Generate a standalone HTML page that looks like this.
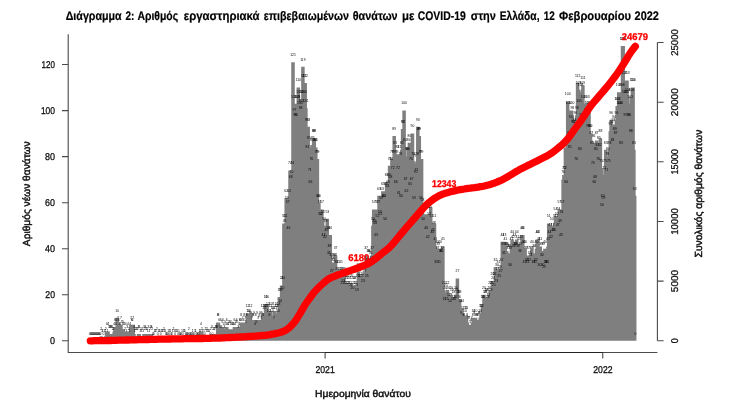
<!DOCTYPE html>
<html lang="el">
<head>
<meta charset="utf-8">
<title>Διάγραμμα 2: Αριθμός εργαστηριακά επιβεβαιωμένων θανάτων με COVID-19 στην Ελλάδα</title>
<style>
html,body{margin:0;padding:0;background:#fff;}
body{width:734px;height:413px;overflow:hidden;}
svg{display:block;}
svg text{font-family:"Liberation Sans",sans-serif;text-rendering:geometricPrecision;}
.t{font-weight:bold;font-size:12.4px;fill:#000;stroke:#000;stroke-width:0.2px;}
.ax{font-size:9.9px;fill:#111;stroke:#111;stroke-width:0.3px;}
.lab{font-size:10px;fill:#111;stroke:#111;stroke-width:0.45px;}
svg .n text{font-size:3.4px;fill:#000;text-anchor:middle;text-rendering:auto;}
.r{font-weight:bold;font-size:9.8px;fill:#ff0000;stroke:#ff0000;stroke-width:0.3px;text-anchor:middle;}
</style>
</head>
<body>
<svg width="734" height="413" viewBox="0 0 734 413">
<rect width="734" height="413" fill="#fff"/>
<text class="t" y="20"><tspan x="65.7" textLength="56" lengthAdjust="spacingAndGlyphs">Διάγραμμα</tspan> <tspan x="125.4" textLength="8.9" lengthAdjust="spacingAndGlyphs">2:</tspan> <tspan x="137.4" textLength="40.8" lengthAdjust="spacingAndGlyphs">Αριθμός</tspan> <tspan x="183.8" textLength="75.8" lengthAdjust="spacingAndGlyphs">εργαστηριακά</tspan> <tspan x="263.8" textLength="85.2" lengthAdjust="spacingAndGlyphs">επιβεβαιωμένων</tspan> <tspan x="352.7" textLength="44.9" lengthAdjust="spacingAndGlyphs">θανάτων</tspan> <tspan x="402" textLength="12.4" lengthAdjust="spacingAndGlyphs">με</tspan> <tspan x="417.7" textLength="48.1" lengthAdjust="spacingAndGlyphs">COVID-19</tspan> <tspan x="470.7" textLength="25.2" lengthAdjust="spacingAndGlyphs">στην</tspan> <tspan x="499.7" textLength="39.8" lengthAdjust="spacingAndGlyphs">Ελλάδα,</tspan> <tspan x="543.7" textLength="11.1" lengthAdjust="spacingAndGlyphs">12</tspan> <tspan x="559" textLength="72.1" lengthAdjust="spacingAndGlyphs">Φεβρουαρίου</tspan> <tspan x="634.6" textLength="24.3" lengthAdjust="spacingAndGlyphs">2022</tspan></text>
<path d="M101.3 340.8V336.2M102 340.8V338.5M102.8 340.8V338.5M104.3 340.8V338.5M105.1 340.8V338.5M105.8 340.8V336.2M106.6 340.8V331.6M107.4 340.8V338.5M108.1 340.8V331.6M108.9 340.8V333.9M109.6 340.8V333.9M110.4 340.8V333.9M111.2 340.8V333.9M111.9 340.8V333.9M112.7 340.8V336.2M113.4 340.8V336.2M114.2 340.8V331.6M115 340.8V327M115.7 340.8V331.6M116.5 340.8V327M117.2 340.8V317.8M118 340.8V324.7M118.8 340.8V327M119.5 340.8V331.6M120.3 340.8V331.6M121 340.8V324.7M121.8 340.8V329.3M122.6 340.8V331.6M123.3 340.8V329.3M124.1 340.8V331.6M124.9 340.8V336.2M125.6 340.8V331.6M126.4 340.8V338.5M127.1 340.8V333.9M127.9 340.8V331.6M128.7 340.8V336.2M129.4 340.8V338.5M130.2 340.8V331.6M130.9 340.8V324.7M131.7 340.8V327M132.5 340.8V327M133.2 340.8V324.7M134 340.8V333.9M134.7 340.8V338.5M135.5 340.8V336.2M136.3 340.8V336.2M137 340.8V336.2M137.8 340.8V336.2M138.5 340.8V333.9M139.3 340.8V333.9M140.1 340.8V338.5M140.8 340.8V336.2M141.6 340.8V338.5M142.4 340.8V336.2M143.1 340.8V338.5M143.9 340.8V333.9M144.6 340.8V336.2M145.4 340.8V333.9M146.2 340.8V336.2M146.9 340.8V336.2M147.7 340.8V338.5M148.4 340.8V333.9M149.2 340.8V338.5M150 340.8V336.2M150.7 340.8V333.9M151.5 340.8V333.9M152.2 340.8V336.2M154.5 340.8V338.5M155.3 340.8V338.5M156 340.8V338.5M156.8 340.8V336.2M158.3 340.8V338.5M159.1 340.8V338.5M159.9 340.8V338.5M161.4 340.8V338.5M162.1 340.8V338.5M162.9 340.8V338.5M163.7 340.8V336.2M164.4 340.8V338.5M165.2 340.8V338.5M168.2 340.8V338.5M169.7 340.8V338.5M170.5 340.8V338.5M172.8 340.8V338.5M173.5 340.8V336.2M174.3 340.8V338.5M175.8 340.8V338.5M176.6 340.8V338.5M177.4 340.8V338.5M178.9 340.8V338.5M181.9 340.8V338.5M183.4 340.8V338.5M184.2 340.8V338.5M185 340.8V338.5M188.8 340.8V336.2M192.6 340.8V338.5M194.9 340.8V338.5M195.6 340.8V338.5M199.4 340.8V338.5M200.2 340.8V338.5M200.9 340.8V331.6M201.7 340.8V336.2M202.5 340.8V338.5M204 340.8V338.5M205.5 340.8V336.2M206.3 340.8V338.5M207 340.8V336.2M207.8 340.8V338.5M208.6 340.8V338.5M209.3 340.8V338.5M210.8 340.8V336.2M211.6 340.8V333.9M213.1 340.8V336.2M213.9 340.8V336.2M214.6 340.8V336.2M215.4 340.8V333.9M216.2 340.8V333.9M216.9 340.8V333.9M217.7 340.8V322.4M218.4 340.8V322.4M219.2 340.8V327M220 340.8V333.9M220.7 340.8V327M221.5 340.8V333.9M222.2 340.8V329.3M223 340.8V327M223.8 340.8V331.6M224.5 340.8V333.9M225.3 340.8V329.3M226.1 340.8V331.6M226.8 340.8V327M227.6 340.8V331.6M228.3 340.8V331.6M229.1 340.8V329.3M229.9 340.8V329.3M230.6 340.8V331.6M231.4 340.8V329.3M232.1 340.8V331.6M232.9 340.8V331.6M233.7 340.8V331.6M234.4 340.8V327M235.2 340.8V331.6M235.9 340.8V329.3M236.7 340.8V327M237.5 340.8V329.3M238.2 340.8V333.9M239 340.8V331.6M239.7 340.8V327M240.5 340.8V327M241.3 340.8V322.4M242 340.8V327M242.8 340.8V324.7M243.6 340.8V327M244.3 340.8V322.4M245.1 340.8V324.7M245.8 340.8V329.3M246.6 340.8V322.4M247.4 340.8V313.2M248.1 340.8V317.8M248.9 340.8V317.8M249.6 340.8V320.1M250.4 340.8V313.2M251.2 340.8V320.1M251.9 340.8V324.7M252.7 340.8V322.4M253.4 340.8V322.4M254.2 340.8V320.1M255 340.8V331.6M255.7 340.8V322.4M256.5 340.8V329.3M257.2 340.8V320.1M258 340.8V324.7M258.8 340.8V324.7M259.5 340.8V322.4M260.3 340.8V320.1M261.1 340.8V324.7M261.8 340.8V320.1M262.6 340.8V313.2M263.3 340.8V322.4M264.1 340.8V315.5M264.9 340.8V313.2M265.6 340.8V304M266.4 340.8V313.2M267.1 340.8V304M267.9 340.8V310.9M268.7 340.8V317.8M269.4 340.8V322.4M270.2 340.8V313.2M270.9 340.8V310.9M271.7 340.8V317.8M272.5 340.8V315.5M273.2 340.8V315.5M274 340.8V324.7M274.7 340.8V310.9M275.5 340.8V315.5M276.3 340.8V313.2M277 340.8V313.2M277.8 340.8V317.8M278.6 340.8V310.9M279.3 340.8V297.1M280.1 340.8V308.6M280.8 340.8V297.1M281.6 340.8V285.5M282.4 340.8V294.8M283.1 340.8V285.5M283.9 340.8V223.4M284.6 340.8V228M285.4 340.8V223.4M286.2 340.8V198.1M286.9 340.8V205M287.7 340.8V209.6M288.4 340.8V234.9M289.2 340.8V198.1M290 340.8V170.4M290.7 340.8V184.2M291.5 340.8V179.6M292.2 340.8V170.4M293 340.8V62.2M293.8 340.8V103.7M294.5 340.8V117.5M295.3 340.8V122.1M296.1 340.8V122.1M296.8 340.8V103.7M297.6 340.8V103.7M298.3 340.8V87.5M299.1 340.8V99.1M299.9 340.8V110.6M300.6 340.8V115.2M301.4 340.8V108.3M302.1 340.8V99.1M302.9 340.8V66.8M303.7 340.8V82.9M304.4 340.8V99.1M305.2 340.8V82.9M305.9 340.8V108.3M306.7 340.8V126.7M307.5 340.8V154.3M308.2 340.8V126.7M309 340.8V145.1M309.8 340.8V177.3M310.5 340.8V188.8M311.3 340.8V165.8M312 340.8V147.4M312.8 340.8V145.1M313.6 340.8V138.2M314.3 340.8V138.2M315.1 340.8V147.4M315.8 340.8V147.4M316.6 340.8V158.9M317.4 340.8V158.9M318.1 340.8V202.7M318.9 340.8V202.7M319.6 340.8V209.6M320.4 340.8V221.1M321.2 340.8V221.1M321.9 340.8V209.6M322.7 340.8V218.8M323.4 340.8V241.8M324.2 340.8V225.7M325 340.8V244.1M325.7 340.8V228M326.5 340.8V237.2M327.3 340.8V218.8M328 340.8V234.9M328.8 340.8V260.2M329.5 340.8V253.3M330.3 340.8V234.9M331.1 340.8V262.5M331.8 340.8V278.6M332.6 340.8V264.8M333.3 340.8V267.1M334.1 340.8V262.5M334.9 340.8V262.5M335.6 340.8V255.6M336.4 340.8V269.4M337.1 340.8V276.3M337.9 340.8V269.4M338.7 340.8V280.9M339.4 340.8V280.9M340.2 340.8V276.3M340.9 340.8V269.4M341.7 340.8V276.3M342.5 340.8V290.1M343.2 340.8V287.8M344 340.8V276.3M344.8 340.8V283.2M345.5 340.8V290.1M346.3 340.8V285.5M347 340.8V290.1M347.8 340.8V283.2M348.6 340.8V290.1M349.3 340.8V285.5M350.1 340.8V290.1M350.8 340.8V292.5M351.6 340.8V283.2M352.4 340.8V294.8M353.1 340.8V285.5M353.9 340.8V290.1M354.6 340.8V285.5M355.4 340.8V290.1M356.2 340.8V292.5M356.9 340.8V297.1M357.7 340.8V283.2M358.4 340.8V271.7M359.2 340.8V278.6M360 340.8V283.2M360.7 340.8V283.2M361.5 340.8V276.3M362.3 340.8V280.9M363 340.8V287.8M363.8 340.8V274M364.5 340.8V278.6M365.3 340.8V271.7M366.1 340.8V255.6M366.8 340.8V283.2M367.6 340.8V267.1M368.3 340.8V257.9M369.1 340.8V257.9M369.9 340.8V269.4M370.6 340.8V260.2M371.4 340.8V264.8M372.1 340.8V255.6M372.9 340.8V225.7M373.7 340.8V209.6M374.4 340.8V228M375.2 340.8V230.3M375.9 340.8V241.8M376.7 340.8V209.6M377.5 340.8V223.4M378.2 340.8V209.6M379 340.8V195.8M379.8 340.8V218.8M380.5 340.8V221.1M381.3 340.8V205M382 340.8V195.8M382.8 340.8V191.2M383.6 340.8V202.7M384.3 340.8V202.7M385.1 340.8V225.7M385.8 340.8V191.2M386.6 340.8V181.9M387.4 340.8V193.5M388.1 340.8V188.8M388.9 340.8V181.9M389.6 340.8V165.8M390.4 340.8V184.2M391.2 340.8V165.8M391.9 340.8V158.9M392.7 340.8V175M393.4 340.8V158.9M394.2 340.8V135.9M395 340.8V149.7M395.7 340.8V188.8M396.5 340.8V158.9M397.3 340.8V154.3M398 340.8V175M398.8 340.8V200.4M399.5 340.8V154.3M400.3 340.8V161.2M401.1 340.8V202.7M401.8 340.8V149.7M402.6 340.8V129M403.3 340.8V129M404.1 340.8V110.6M404.9 340.8V147.4M405.6 340.8V186.5M406.4 340.8V198.1M407.1 340.8V156.6M407.9 340.8V156.6M408.7 340.8V147.4M409.4 340.8V142.8M410.2 340.8V191.2M410.9 340.8V165.8M411.7 340.8V186.5M412.5 340.8V133.6M413.2 340.8V161.2M414 340.8V205M414.8 340.8V163.5M415.5 340.8V179.6M416.3 340.8V177.3M417 340.8V161.2M417.8 340.8V126.7M418.6 340.8V135.9M419.3 340.8V135.9M420.1 340.8V158.9M420.8 340.8V205M421.6 340.8V158.9M422.4 340.8V207.3M423.1 340.8V225.7M423.9 340.8V214.2M424.6 340.8V216.5M425.4 340.8V214.2M426.2 340.8V234.9M426.9 340.8V214.2M427.7 340.8V244.1M428.5 340.8V214.2M429.2 340.8V221.1M430 340.8V214.2M430.7 340.8V207.3M431.5 340.8V223.4M432.3 340.8V239.5M433 340.8V237.2M433.8 340.8V230.3M434.5 340.8V223.4M435.3 340.8V246.4M436.1 340.8V269.4M436.8 340.8V248.7M437.6 340.8V255.6M438.3 340.8V251M439.1 340.8V269.4M439.9 340.8V248.7M440.6 340.8V257.9M441.4 340.8V257.9M442.1 340.8V255.6M442.9 340.8V246.4M443.7 340.8V290.1M444.4 340.8V306.3M445.2 340.8V294.8M446 340.8V292.5M446.7 340.8V306.3M447.5 340.8V290.1M448.2 340.8V294.8M449 340.8V301.7M449.8 340.8V308.6M450.5 340.8V301.7M451.3 340.8V294.8M452 340.8V297.1M452.8 340.8V306.3M453.6 340.8V299.4M454.3 340.8V306.3M455.1 340.8V304M455.8 340.8V294.8M456.6 340.8V297.1M457.4 340.8V278.6M458.1 340.8V299.4M458.9 340.8V304M459.6 340.8V299.4M460.4 340.8V308.6M461.2 340.8V320.1M461.9 340.8V308.6M462.7 340.8V315.5M463.5 340.8V322.4M464.2 340.8V322.4M465 340.8V317.8M465.7 340.8V315.5M466.5 340.8V315.5M467.3 340.8V322.4M468 340.8V324.7M468.8 340.8V324.7M469.5 340.8V324.7M470.3 340.8V329.3M471.1 340.8V327M471.8 340.8V324.7M472.6 340.8V322.4M473.3 340.8V317.8M474.1 340.8V320.1M474.9 340.8V322.4M475.6 340.8V317.8M476.4 340.8V322.4M477.1 340.8V322.4M477.9 340.8V322.4M478.7 340.8V320.1M479.4 340.8V320.1M480.2 340.8V317.8M481 340.8V313.2M481.7 340.8V313.2M482.5 340.8V304M483.2 340.8V304M484 340.8V294.8M484.8 340.8V299.4M485.5 340.8V299.4M486.3 340.8V297.1M487 340.8V297.1M487.8 340.8V304M488.6 340.8V301.7M489.3 340.8V294.8M490.1 340.8V290.1M490.8 340.8V297.1M491.6 340.8V290.1M492.4 340.8V280.9M493.1 340.8V285.5M493.9 340.8V292.5M494.6 340.8V280.9M495.4 340.8V267.1M496.2 340.8V287.8M496.9 340.8V271.7M497.7 340.8V276.3M498.5 340.8V269.4M499.2 340.8V283.2M500 340.8V274M500.7 340.8V278.6M501.5 340.8V267.1M502.3 340.8V241.8M503 340.8V251M503.8 340.8V260.2M504.5 340.8V241.8M505.3 340.8V246.4M506.1 340.8V251M506.8 340.8V251M507.6 340.8V253.3M508.3 340.8V255.6M509.1 340.8V253.3M509.9 340.8V271.7M510.6 340.8V255.6M511.4 340.8V246.4M512.1 340.8V239.5M512.9 340.8V244.1M513.7 340.8V253.3M514.4 340.8V241.8M515.2 340.8V251M516 340.8V251M516.7 340.8V239.5M517.5 340.8V244.1M518.2 340.8V253.3M519 340.8V246.4M519.8 340.8V257.9M520.5 340.8V251M521.3 340.8V244.1M522 340.8V234.9M522.8 340.8V234.9M523.6 340.8V248.7M524.3 340.8V269.4M525.1 340.8V248.7M525.8 340.8V255.6M526.6 340.8V267.1M527.4 340.8V269.4M528.1 340.8V255.6M528.9 340.8V267.1M529.7 340.8V260.2M530.4 340.8V262.5M531.2 340.8V255.6M531.9 340.8V248.7M532.7 340.8V255.6M533.5 340.8V269.4M534.2 340.8V253.3M535 340.8V269.4M535.7 340.8V267.1M536.5 340.8V248.7M537.3 340.8V239.5M538 340.8V239.5M538.8 340.8V246.4M539.5 340.8V271.7M540.3 340.8V246.4M541.1 340.8V251M541.8 340.8V262.5M542.6 340.8V271.7M543.3 340.8V251M544.1 340.8V274M544.9 340.8V248.7M545.6 340.8V269.4M546.4 340.8V269.4M547.2 340.8V269.4M547.9 340.8V246.4M548.7 340.8V223.4M549.4 340.8V239.5M550.2 340.8V232.6M551 340.8V244.1M551.7 340.8V225.7M552.5 340.8V232.6M553.2 340.8V237.2M554 340.8V237.2M554.8 340.8V223.4M555.5 340.8V216.5M556.3 340.8V223.4M557 340.8V221.1M557.8 340.8V232.6M558.6 340.8V216.5M559.3 340.8V209.6M560.1 340.8V228M560.8 340.8V241.8M561.6 340.8V218.8M562.4 340.8V209.6M563.1 340.8V179.6M563.9 340.8V175M564.7 340.8V175M565.4 340.8V147.4M566.2 340.8V188.8M566.9 340.8V147.4M567.7 340.8V101.4M568.5 340.8V110.6M569.2 340.8V140.5M570 340.8V154.3M570.7 340.8V124.4M571.5 340.8V110.6M572.3 340.8V115.2M573 340.8V129M573.8 340.8V129M574.5 340.8V126.7M575.3 340.8V119.8M576.1 340.8V165.8M576.8 340.8V115.2M577.6 340.8V82.9M578.3 340.8V89.8M579.1 340.8V108.3M579.9 340.8V156.6M580.6 340.8V92.2M581.4 340.8V122.1M582.2 340.8V89.8M582.9 340.8V85.2M583.7 340.8V103.7M584.4 340.8V122.1M585.2 340.8V119.8M586 340.8V117.5M586.7 340.8V103.7M587.5 340.8V110.6M588.2 340.8V133.6M589 340.8V110.6M589.8 340.8V133.6M590.5 340.8V133.6M591.3 340.8V140.5M592 340.8V149.7M592.8 340.8V170.4M593.6 340.8V142.8M594.3 340.8V188.8M595.1 340.8V184.2M595.8 340.8V156.6M596.6 340.8V140.5M597.4 340.8V152M598.1 340.8V165.8M598.9 340.8V145.1M599.7 340.8V152M600.4 340.8V138.2M601.2 340.8V168.1M601.9 340.8V211.9M602.7 340.8V202.7M603.5 340.8V205M604.2 340.8V175M605 340.8V168.1M605.7 340.8V149.7M606.5 340.8V177.3M607.3 340.8V161.2M608 340.8V156.6M608.8 340.8V168.1M609.5 340.8V149.7M610.3 340.8V131.3M611.1 340.8V119.8M611.8 340.8V129M612.6 340.8V147.4M613.3 340.8V126.7M614.1 340.8V124.4M614.9 340.8V135.9M615.6 340.8V140.5M616.4 340.8V119.8M617.2 340.8V106M617.9 340.8V106M618.7 340.8V92.2M619.4 340.8V110.6M620.2 340.8V110.6M621 340.8V149.7M621.7 340.8V92.2M622.5 340.8V46.1M623.2 340.8V46.1M624 340.8V80.6M624.8 340.8V99.1M625.5 340.8V122.1M626.3 340.8V99.1M627 340.8V80.6M627.8 340.8V96.8M628.6 340.8V122.1M629.3 340.8V122.1M630.1 340.8V103.7M630.8 340.8V138.2M631.6 340.8V96.8M632.4 340.8V87.5M633.1 340.8V87.5M633.9 340.8V149.7M634.7 340.8V195.8" fill="none" stroke="#7f7f7f" stroke-width="3.5"/>
<g class="n">
<text x="89.8" y="334.6">0</text><text x="90.6" y="334.6">0</text><text x="91.4" y="334.6">0</text><text x="92.1" y="334.6">0</text><text x="92.9" y="334.6">0</text><text x="93.7" y="334.6">0</text><text x="94.4" y="334.6">0</text><text x="95.2" y="334.6">0</text>
<text x="95.9" y="334.6">0</text><text x="96.7" y="334.6">0</text><text x="97.5" y="334.6">0</text><text x="98.2" y="334.6">0</text><text x="99" y="334.6">0</text><text x="99.7" y="334.6">0</text><text x="100.5" y="334.6">0</text><text x="101.3" y="330">2</text>
<text x="102" y="332.3">1</text><text x="102.8" y="332.3">1</text><text x="103.5" y="334.6">0</text><text x="104.3" y="332.3">1</text><text x="105.1" y="332.3">1</text><text x="105.8" y="330">2</text><text x="106.6" y="325.4">4</text><text x="107.4" y="332.3">1</text>
<text x="108.1" y="325.4">4</text><text x="108.9" y="327.7">3</text><text x="109.6" y="327.7">3</text><text x="110.4" y="327.7">3</text><text x="111.2" y="327.7">3</text><text x="111.9" y="327.7">3</text><text x="112.7" y="330">2</text><text x="113.4" y="330">2</text>
<text x="114.2" y="325.4">4</text><text x="115" y="320.8">6</text><text x="115.7" y="325.4">4</text><text x="116.5" y="320.8">6</text><text x="117.2" y="311.6">10</text><text x="118" y="318.5">7</text><text x="118.8" y="320.8">6</text><text x="119.5" y="325.4">4</text>
<text x="120.3" y="325.4">4</text><text x="121" y="318.5">7</text><text x="121.8" y="323.1">5</text><text x="122.6" y="325.4">4</text><text x="123.3" y="323.1">5</text><text x="124.1" y="325.4">4</text><text x="124.9" y="330">2</text><text x="125.6" y="325.4">4</text>
<text x="126.4" y="332.3">1</text><text x="127.1" y="327.7">3</text><text x="127.9" y="325.4">4</text><text x="128.7" y="330">2</text><text x="129.4" y="332.3">1</text><text x="130.2" y="325.4">4</text><text x="130.9" y="318.5">7</text><text x="131.7" y="320.8">6</text>
<text x="132.5" y="320.8">6</text><text x="133.2" y="318.5">7</text><text x="134" y="327.7">3</text><text x="134.7" y="332.3">1</text><text x="135.5" y="330">2</text><text x="136.3" y="330">2</text><text x="137" y="330">2</text><text x="137.8" y="330">2</text>
<text x="138.5" y="327.7">3</text><text x="139.3" y="327.7">3</text><text x="140.1" y="332.3">1</text><text x="140.8" y="330">2</text><text x="141.6" y="332.3">1</text><text x="142.4" y="330">2</text><text x="143.1" y="332.3">1</text><text x="143.9" y="327.7">3</text>
<text x="144.6" y="330">2</text><text x="145.4" y="327.7">3</text><text x="146.2" y="330">2</text><text x="146.9" y="330">2</text><text x="147.7" y="332.3">1</text><text x="148.4" y="327.7">3</text><text x="149.2" y="332.3">1</text><text x="150" y="330">2</text>
<text x="150.7" y="327.7">3</text><text x="151.5" y="327.7">3</text><text x="152.2" y="330">2</text><text x="153" y="334.6">0</text><text x="153.8" y="334.6">0</text><text x="154.5" y="332.3">1</text><text x="155.3" y="332.3">1</text><text x="156" y="332.3">1</text>
<text x="156.8" y="330">2</text><text x="157.6" y="334.6">0</text><text x="158.3" y="332.3">1</text><text x="159.1" y="332.3">1</text><text x="159.9" y="332.3">1</text><text x="160.6" y="334.6">0</text><text x="161.4" y="332.3">1</text><text x="162.1" y="332.3">1</text>
<text x="162.9" y="332.3">1</text><text x="163.7" y="330">2</text><text x="164.4" y="332.3">1</text><text x="165.2" y="332.3">1</text><text x="165.9" y="334.6">0</text><text x="166.7" y="334.6">0</text><text x="167.5" y="334.6">0</text><text x="168.2" y="332.3">1</text>
<text x="169" y="334.6">0</text><text x="169.7" y="332.3">1</text><text x="170.5" y="332.3">1</text><text x="171.3" y="334.6">0</text><text x="172" y="334.6">0</text><text x="172.8" y="332.3">1</text><text x="173.5" y="330">2</text><text x="174.3" y="332.3">1</text>
<text x="175.1" y="334.6">0</text><text x="175.8" y="332.3">1</text><text x="176.6" y="332.3">1</text><text x="177.4" y="332.3">1</text><text x="178.1" y="334.6">0</text><text x="178.9" y="332.3">1</text><text x="179.6" y="334.6">0</text><text x="180.4" y="334.6">0</text>
<text x="181.2" y="334.6">0</text><text x="181.9" y="332.3">1</text><text x="182.7" y="334.6">0</text><text x="183.4" y="332.3">1</text><text x="184.2" y="332.3">1</text><text x="185" y="332.3">1</text><text x="185.7" y="334.6">0</text><text x="186.5" y="334.6">0</text>
<text x="187.2" y="334.6">0</text><text x="188" y="334.6">0</text><text x="188.8" y="330">2</text><text x="189.5" y="334.6">0</text><text x="190.3" y="334.6">0</text><text x="191" y="334.6">0</text><text x="191.8" y="334.6">0</text><text x="192.6" y="332.3">1</text>
<text x="193.3" y="334.6">0</text><text x="194.1" y="334.6">0</text><text x="194.9" y="332.3">1</text><text x="195.6" y="332.3">1</text><text x="196.4" y="334.6">0</text><text x="197.1" y="334.6">0</text><text x="197.9" y="334.6">0</text><text x="198.7" y="334.6">0</text>
<text x="199.4" y="332.3">1</text><text x="200.2" y="332.3">1</text><text x="200.9" y="325.4">4</text><text x="201.7" y="330">2</text><text x="202.5" y="332.3">1</text><text x="203.2" y="334.6">0</text><text x="204" y="332.3">1</text><text x="204.7" y="334.6">0</text>
<text x="205.5" y="330">2</text><text x="206.3" y="332.3">1</text><text x="207" y="330">2</text><text x="207.8" y="332.3">1</text><text x="208.6" y="332.3">1</text><text x="209.3" y="332.3">1</text><text x="210.1" y="334.6">0</text><text x="210.8" y="330">2</text>
<text x="211.6" y="327.7">3</text><text x="212.4" y="334.6">0</text><text x="213.1" y="330">2</text><text x="213.9" y="330">2</text><text x="214.6" y="330">2</text><text x="215.4" y="327.7">3</text><text x="216.2" y="327.7">3</text><text x="216.9" y="327.7">3</text>
<text x="217.7" y="316.2">8</text><text x="218.4" y="316.2">8</text><text x="219.2" y="320.8">6</text><text x="220" y="327.7">3</text><text x="220.7" y="320.8">6</text><text x="221.5" y="327.7">3</text><text x="222.2" y="323.1">5</text><text x="223" y="320.8">6</text>
<text x="223.8" y="325.4">4</text><text x="224.5" y="327.7">3</text><text x="225.3" y="323.1">5</text><text x="226.1" y="325.4">4</text><text x="226.8" y="320.8">6</text><text x="227.6" y="325.4">4</text><text x="228.3" y="325.4">4</text><text x="229.1" y="323.1">5</text>
<text x="229.9" y="323.1">5</text><text x="230.6" y="325.4">4</text><text x="231.4" y="323.1">5</text><text x="232.1" y="325.4">4</text><text x="232.9" y="325.4">4</text><text x="233.7" y="325.4">4</text><text x="234.4" y="320.8">6</text><text x="235.2" y="325.4">4</text>
<text x="235.9" y="323.1">5</text><text x="236.7" y="320.8">6</text><text x="237.5" y="323.1">5</text><text x="238.2" y="327.7">3</text><text x="239" y="325.4">4</text><text x="239.7" y="320.8">6</text><text x="240.5" y="320.8">6</text><text x="241.3" y="316.2">8</text>
<text x="242" y="320.8">6</text><text x="242.8" y="318.5">7</text><text x="243.6" y="320.8">6</text><text x="244.3" y="316.2">8</text><text x="245.1" y="318.5">7</text><text x="245.8" y="323.1">5</text><text x="246.6" y="316.2">8</text><text x="247.4" y="307">12</text>
<text x="248.1" y="311.6">10</text><text x="248.9" y="311.6">10</text><text x="249.6" y="313.9">9</text><text x="250.4" y="307">12</text><text x="251.2" y="313.9">9</text><text x="251.9" y="318.5">7</text><text x="252.7" y="316.2">8</text><text x="253.4" y="316.2">8</text>
<text x="254.2" y="313.9">9</text><text x="255" y="325.4">4</text><text x="255.7" y="316.2">8</text><text x="256.5" y="323.1">5</text><text x="257.2" y="313.9">9</text><text x="258" y="318.5">7</text><text x="258.8" y="318.5">7</text><text x="259.5" y="316.2">8</text>
<text x="260.3" y="313.9">9</text><text x="261.1" y="318.5">7</text><text x="261.8" y="313.9">9</text><text x="262.6" y="307">12</text><text x="263.3" y="316.2">8</text><text x="264.1" y="309.3">11</text><text x="264.9" y="307">12</text><text x="265.6" y="297.8">16</text>
<text x="266.4" y="307">12</text><text x="267.1" y="297.8">16</text><text x="267.9" y="304.7">13</text><text x="268.7" y="311.6">10</text><text x="269.4" y="316.2">8</text><text x="270.2" y="307">12</text><text x="270.9" y="304.7">13</text><text x="271.7" y="311.6">10</text>
<text x="272.5" y="309.3">11</text><text x="273.2" y="309.3">11</text><text x="274" y="318.5">7</text><text x="274.7" y="304.7">13</text><text x="275.5" y="309.3">11</text><text x="276.3" y="307">12</text><text x="277" y="307">12</text><text x="277.8" y="311.6">10</text>
<text x="278.6" y="304.7">13</text><text x="279.3" y="290.9">19</text><text x="280.1" y="302.4">14</text><text x="280.8" y="290.9">19</text><text x="281.6" y="279.3">24</text><text x="282.4" y="288.6">20</text><text x="283.1" y="279.3">24</text><text x="283.9" y="217.2">51</text>
<text x="284.6" y="221.8">49</text><text x="285.4" y="217.2">51</text><text x="286.2" y="191.9">62</text><text x="286.9" y="198.8">59</text><text x="287.7" y="203.4">57</text><text x="288.4" y="228.7">46</text><text x="289.2" y="191.9">62</text><text x="290" y="164.2">74</text>
<text x="290.7" y="178">68</text><text x="291.5" y="173.4">70</text><text x="292.2" y="164.2">74</text><text x="293" y="56">121</text><text x="293.8" y="97.5">103</text><text x="294.5" y="111.3">97</text><text x="295.3" y="115.9">95</text><text x="296.1" y="115.9">95</text>
<text x="296.8" y="97.5">103</text><text x="297.6" y="97.5">103</text><text x="298.3" y="81.3">110</text><text x="299.1" y="92.9">105</text><text x="299.9" y="104.4">100</text><text x="300.6" y="109">98</text><text x="301.4" y="102.1">101</text><text x="302.1" y="92.9">105</text>
<text x="302.9" y="60.6">119</text><text x="303.7" y="76.7">112</text><text x="304.4" y="92.9">105</text><text x="305.2" y="76.7">112</text><text x="305.9" y="102.1">101</text><text x="306.7" y="120.5">93</text><text x="307.5" y="148.1">81</text><text x="308.2" y="120.5">93</text>
<text x="309" y="138.9">85</text><text x="309.8" y="171.1">71</text><text x="310.5" y="182.6">66</text><text x="311.3" y="159.6">76</text><text x="312" y="141.2">84</text><text x="312.8" y="138.9">85</text><text x="313.6" y="132">88</text><text x="314.3" y="132">88</text>
<text x="315.1" y="141.2">84</text><text x="315.8" y="141.2">84</text><text x="316.6" y="152.7">79</text><text x="317.4" y="152.7">79</text><text x="318.1" y="196.5">60</text><text x="318.9" y="196.5">60</text><text x="319.6" y="203.4">57</text><text x="320.4" y="214.9">52</text>
<text x="321.2" y="214.9">52</text><text x="321.9" y="203.4">57</text><text x="322.7" y="212.6">53</text><text x="323.4" y="235.6">43</text><text x="324.2" y="219.5">50</text><text x="325" y="237.9">42</text><text x="325.7" y="221.8">49</text><text x="326.5" y="231">45</text>
<text x="327.3" y="212.6">53</text><text x="328" y="228.7">46</text><text x="328.8" y="254">35</text><text x="329.5" y="247.1">38</text><text x="330.3" y="228.7">46</text><text x="331.1" y="256.3">34</text><text x="331.8" y="272.4">27</text><text x="332.6" y="258.6">33</text>
<text x="333.3" y="260.9">32</text><text x="334.1" y="256.3">34</text><text x="334.9" y="256.3">34</text><text x="335.6" y="249.4">37</text><text x="336.4" y="263.2">31</text><text x="337.1" y="270.1">28</text><text x="337.9" y="263.2">31</text><text x="338.7" y="274.7">26</text>
<text x="339.4" y="274.7">26</text><text x="340.2" y="270.1">28</text><text x="340.9" y="263.2">31</text><text x="341.7" y="270.1">28</text><text x="342.5" y="283.9">22</text><text x="343.2" y="281.6">23</text><text x="344" y="270.1">28</text><text x="344.8" y="277">25</text>
<text x="345.5" y="283.9">22</text><text x="346.3" y="279.3">24</text><text x="347" y="283.9">22</text><text x="347.8" y="277">25</text><text x="348.6" y="283.9">22</text><text x="349.3" y="279.3">24</text><text x="350.1" y="283.9">22</text><text x="350.8" y="286.3">21</text>
<text x="351.6" y="277">25</text><text x="352.4" y="288.6">20</text><text x="353.1" y="279.3">24</text><text x="353.9" y="283.9">22</text><text x="354.6" y="279.3">24</text><text x="355.4" y="283.9">22</text><text x="356.2" y="286.3">21</text><text x="356.9" y="290.9">19</text>
<text x="357.7" y="277">25</text><text x="358.4" y="265.5">30</text><text x="359.2" y="272.4">27</text><text x="360" y="277">25</text><text x="360.7" y="277">25</text><text x="361.5" y="270.1">28</text><text x="362.3" y="274.7">26</text><text x="363" y="281.6">23</text>
<text x="363.8" y="267.8">29</text><text x="364.5" y="272.4">27</text><text x="365.3" y="265.5">30</text><text x="366.1" y="249.4">37</text><text x="366.8" y="277">25</text><text x="367.6" y="260.9">32</text><text x="368.3" y="251.7">36</text><text x="369.1" y="251.7">36</text>
<text x="369.9" y="263.2">31</text><text x="370.6" y="254">35</text><text x="371.4" y="258.6">33</text><text x="372.1" y="249.4">37</text><text x="372.9" y="219.5">50</text><text x="373.7" y="203.4">57</text><text x="374.4" y="221.8">49</text><text x="375.2" y="224.1">48</text>
<text x="375.9" y="235.6">43</text><text x="376.7" y="203.4">57</text><text x="377.5" y="217.2">51</text><text x="378.2" y="203.4">57</text><text x="379" y="189.6">63</text><text x="379.8" y="212.6">53</text><text x="380.5" y="214.9">52</text><text x="381.3" y="198.8">59</text>
<text x="382" y="189.6">63</text><text x="382.8" y="185">65</text><text x="383.6" y="196.5">60</text><text x="384.3" y="196.5">60</text><text x="385.1" y="219.5">50</text><text x="385.8" y="185">65</text><text x="386.6" y="175.7">69</text><text x="387.4" y="187.3">64</text>
<text x="388.1" y="182.6">66</text><text x="388.9" y="175.7">69</text><text x="389.6" y="159.6">76</text><text x="390.4" y="178">68</text><text x="391.2" y="159.6">76</text><text x="391.9" y="152.7">79</text><text x="392.7" y="168.8">72</text><text x="393.4" y="152.7">79</text>
<text x="394.2" y="129.7">89</text><text x="395" y="143.5">83</text><text x="395.7" y="182.6">66</text><text x="396.5" y="152.7">79</text><text x="397.3" y="148.1">81</text><text x="398" y="168.8">72</text><text x="398.8" y="194.2">61</text><text x="399.5" y="148.1">81</text>
<text x="400.3" y="155">78</text><text x="401.1" y="196.5">60</text><text x="401.8" y="143.5">83</text><text x="402.6" y="122.8">92</text><text x="403.3" y="122.8">92</text><text x="404.1" y="104.4">100</text><text x="404.9" y="141.2">84</text><text x="405.6" y="180.3">67</text>
<text x="406.4" y="191.9">62</text><text x="407.1" y="150.4">80</text><text x="407.9" y="150.4">80</text><text x="408.7" y="141.2">84</text><text x="409.4" y="136.6">86</text><text x="410.2" y="185">65</text><text x="410.9" y="159.6">76</text><text x="411.7" y="180.3">67</text>
<text x="412.5" y="127.4">90</text><text x="413.2" y="155">78</text><text x="414" y="198.8">59</text><text x="414.8" y="157.3">77</text><text x="415.5" y="173.4">70</text><text x="416.3" y="171.1">71</text><text x="417" y="155">78</text><text x="417.8" y="120.5">93</text>
<text x="418.6" y="129.7">89</text><text x="419.3" y="129.7">89</text><text x="420.1" y="152.7">79</text><text x="420.8" y="198.8">59</text><text x="421.6" y="152.7">79</text><text x="422.4" y="201.1">58</text><text x="423.1" y="219.5">50</text><text x="423.9" y="208">55</text>
<text x="424.6" y="210.3">54</text><text x="425.4" y="208">55</text><text x="426.2" y="228.7">46</text><text x="426.9" y="208">55</text><text x="427.7" y="237.9">42</text><text x="428.5" y="208">55</text><text x="429.2" y="214.9">52</text><text x="430" y="208">55</text>
<text x="430.7" y="201.1">58</text><text x="431.5" y="217.2">51</text><text x="432.3" y="233.3">44</text><text x="433" y="231">45</text><text x="433.8" y="224.1">48</text><text x="434.5" y="217.2">51</text><text x="435.3" y="240.2">41</text><text x="436.1" y="263.2">31</text>
<text x="436.8" y="242.5">40</text><text x="437.6" y="249.4">37</text><text x="438.3" y="244.8">39</text><text x="439.1" y="263.2">31</text><text x="439.9" y="242.5">40</text><text x="440.6" y="251.7">36</text><text x="441.4" y="251.7">36</text><text x="442.1" y="249.4">37</text>
<text x="442.9" y="240.2">41</text><text x="443.7" y="283.9">22</text><text x="444.4" y="300.1">15</text><text x="445.2" y="288.6">20</text><text x="446" y="286.3">21</text><text x="446.7" y="300.1">15</text><text x="447.5" y="283.9">22</text><text x="448.2" y="288.6">20</text>
<text x="449" y="295.5">17</text><text x="449.8" y="302.4">14</text><text x="450.5" y="295.5">17</text><text x="451.3" y="288.6">20</text><text x="452" y="290.9">19</text><text x="452.8" y="300.1">15</text><text x="453.6" y="293.2">18</text><text x="454.3" y="300.1">15</text>
<text x="455.1" y="297.8">16</text><text x="455.8" y="288.6">20</text><text x="456.6" y="290.9">19</text><text x="457.4" y="272.4">27</text><text x="458.1" y="293.2">18</text><text x="458.9" y="297.8">16</text><text x="459.6" y="293.2">18</text><text x="460.4" y="302.4">14</text>
<text x="461.2" y="313.9">9</text><text x="461.9" y="302.4">14</text><text x="462.7" y="309.3">11</text><text x="463.5" y="316.2">8</text><text x="464.2" y="316.2">8</text><text x="465" y="311.6">10</text><text x="465.7" y="309.3">11</text><text x="466.5" y="309.3">11</text>
<text x="467.3" y="316.2">8</text><text x="468" y="318.5">7</text><text x="468.8" y="318.5">7</text><text x="469.5" y="318.5">7</text><text x="470.3" y="323.1">5</text><text x="471.1" y="320.8">6</text><text x="471.8" y="318.5">7</text><text x="472.6" y="316.2">8</text>
<text x="473.3" y="311.6">10</text><text x="474.1" y="313.9">9</text><text x="474.9" y="316.2">8</text><text x="475.6" y="311.6">10</text><text x="476.4" y="316.2">8</text><text x="477.1" y="316.2">8</text><text x="477.9" y="316.2">8</text><text x="478.7" y="313.9">9</text>
<text x="479.4" y="313.9">9</text><text x="480.2" y="311.6">10</text><text x="481" y="307">12</text><text x="481.7" y="307">12</text><text x="482.5" y="297.8">16</text><text x="483.2" y="297.8">16</text><text x="484" y="288.6">20</text><text x="484.8" y="293.2">18</text>
<text x="485.5" y="293.2">18</text><text x="486.3" y="290.9">19</text><text x="487" y="290.9">19</text><text x="487.8" y="297.8">16</text><text x="488.6" y="295.5">17</text><text x="489.3" y="288.6">20</text><text x="490.1" y="283.9">22</text><text x="490.8" y="290.9">19</text>
<text x="491.6" y="283.9">22</text><text x="492.4" y="274.7">26</text><text x="493.1" y="279.3">24</text><text x="493.9" y="286.3">21</text><text x="494.6" y="274.7">26</text><text x="495.4" y="260.9">32</text><text x="496.2" y="281.6">23</text><text x="496.9" y="265.5">30</text>
<text x="497.7" y="270.1">28</text><text x="498.5" y="263.2">31</text><text x="499.2" y="277">25</text><text x="500" y="267.8">29</text><text x="500.7" y="272.4">27</text><text x="501.5" y="260.9">32</text><text x="502.3" y="235.6">43</text><text x="503" y="244.8">39</text>
<text x="503.8" y="254">35</text><text x="504.5" y="235.6">43</text><text x="505.3" y="240.2">41</text><text x="506.1" y="244.8">39</text><text x="506.8" y="244.8">39</text><text x="507.6" y="247.1">38</text><text x="508.3" y="249.4">37</text><text x="509.1" y="247.1">38</text>
<text x="509.9" y="265.5">30</text><text x="510.6" y="249.4">37</text><text x="511.4" y="240.2">41</text><text x="512.1" y="233.3">44</text><text x="512.9" y="237.9">42</text><text x="513.7" y="247.1">38</text><text x="514.4" y="235.6">43</text><text x="515.2" y="244.8">39</text>
<text x="516" y="244.8">39</text><text x="516.7" y="233.3">44</text><text x="517.5" y="237.9">42</text><text x="518.2" y="247.1">38</text><text x="519" y="240.2">41</text><text x="519.8" y="251.7">36</text><text x="520.5" y="244.8">39</text><text x="521.3" y="237.9">42</text>
<text x="522" y="228.7">46</text><text x="522.8" y="228.7">46</text><text x="523.6" y="242.5">40</text><text x="524.3" y="263.2">31</text><text x="525.1" y="242.5">40</text><text x="525.8" y="249.4">37</text><text x="526.6" y="260.9">32</text><text x="527.4" y="263.2">31</text>
<text x="528.1" y="249.4">37</text><text x="528.9" y="260.9">32</text><text x="529.7" y="254">35</text><text x="530.4" y="256.3">34</text><text x="531.2" y="249.4">37</text><text x="531.9" y="242.5">40</text><text x="532.7" y="249.4">37</text><text x="533.5" y="263.2">31</text>
<text x="534.2" y="247.1">38</text><text x="535" y="263.2">31</text><text x="535.7" y="260.9">32</text><text x="536.5" y="242.5">40</text><text x="537.3" y="233.3">44</text><text x="538" y="233.3">44</text><text x="538.8" y="240.2">41</text><text x="539.5" y="265.5">30</text>
<text x="540.3" y="240.2">41</text><text x="541.1" y="244.8">39</text><text x="541.8" y="256.3">34</text><text x="542.6" y="265.5">30</text><text x="543.3" y="244.8">39</text><text x="544.1" y="267.8">29</text><text x="544.9" y="242.5">40</text><text x="545.6" y="263.2">31</text>
<text x="546.4" y="263.2">31</text><text x="547.2" y="263.2">31</text><text x="547.9" y="240.2">41</text><text x="548.7" y="217.2">51</text><text x="549.4" y="233.3">44</text><text x="550.2" y="226.4">47</text><text x="551" y="237.9">42</text><text x="551.7" y="219.5">50</text>
<text x="552.5" y="226.4">47</text><text x="553.2" y="231">45</text><text x="554" y="231">45</text><text x="554.8" y="217.2">51</text><text x="555.5" y="210.3">54</text><text x="556.3" y="217.2">51</text><text x="557" y="214.9">52</text><text x="557.8" y="226.4">47</text>
<text x="558.6" y="210.3">54</text><text x="559.3" y="203.4">57</text><text x="560.1" y="221.8">49</text><text x="560.8" y="235.6">43</text><text x="561.6" y="212.6">53</text><text x="562.4" y="203.4">57</text><text x="563.1" y="173.4">70</text><text x="563.9" y="168.8">72</text>
<text x="564.7" y="168.8">72</text><text x="565.4" y="141.2">84</text><text x="566.2" y="182.6">66</text><text x="566.9" y="141.2">84</text><text x="567.7" y="95.2">104</text><text x="568.5" y="104.4">100</text><text x="569.2" y="134.3">87</text><text x="570" y="148.1">81</text>
<text x="570.7" y="118.2">94</text><text x="571.5" y="104.4">100</text><text x="572.3" y="109">98</text><text x="573" y="122.8">92</text><text x="573.8" y="122.8">92</text><text x="574.5" y="120.5">93</text><text x="575.3" y="113.6">96</text><text x="576.1" y="159.6">76</text>
<text x="576.8" y="109">98</text><text x="577.6" y="76.7">112</text><text x="578.3" y="83.6">109</text><text x="579.1" y="102.1">101</text><text x="579.9" y="150.4">80</text><text x="580.6" y="86">108</text><text x="581.4" y="115.9">95</text><text x="582.2" y="83.6">109</text>
<text x="582.9" y="79">111</text><text x="583.7" y="97.5">103</text><text x="584.4" y="115.9">95</text><text x="585.2" y="113.6">96</text><text x="586" y="111.3">97</text><text x="586.7" y="97.5">103</text><text x="587.5" y="104.4">100</text><text x="588.2" y="127.4">90</text>
<text x="589" y="104.4">100</text><text x="589.8" y="127.4">90</text><text x="590.5" y="127.4">90</text><text x="591.3" y="134.3">87</text><text x="592" y="143.5">83</text><text x="592.8" y="164.2">74</text><text x="593.6" y="136.6">86</text><text x="594.3" y="182.6">66</text>
<text x="595.1" y="178">68</text><text x="595.8" y="150.4">80</text><text x="596.6" y="134.3">87</text><text x="597.4" y="145.8">82</text><text x="598.1" y="159.6">76</text><text x="598.9" y="138.9">85</text><text x="599.7" y="145.8">82</text><text x="600.4" y="132">88</text>
<text x="601.2" y="161.9">75</text><text x="601.9" y="205.7">56</text><text x="602.7" y="196.5">60</text><text x="603.5" y="198.8">59</text><text x="604.2" y="168.8">72</text><text x="605" y="161.9">75</text><text x="605.7" y="143.5">83</text><text x="606.5" y="171.1">71</text>
<text x="607.3" y="155">78</text><text x="608" y="150.4">80</text><text x="608.8" y="161.9">75</text><text x="609.5" y="143.5">83</text><text x="610.3" y="125.1">91</text><text x="611.1" y="113.6">96</text><text x="611.8" y="122.8">92</text><text x="612.6" y="141.2">84</text>
<text x="613.3" y="120.5">93</text><text x="614.1" y="118.2">94</text><text x="614.9" y="129.7">89</text><text x="615.6" y="134.3">87</text><text x="616.4" y="113.6">96</text><text x="617.2" y="99.8">102</text><text x="617.9" y="99.8">102</text><text x="618.7" y="86">108</text>
<text x="619.4" y="104.4">100</text><text x="620.2" y="104.4">100</text><text x="621" y="143.5">83</text><text x="621.7" y="86">108</text><text x="622.5" y="39.9">128</text><text x="623.2" y="39.9">128</text><text x="624" y="74.4">113</text><text x="624.8" y="92.9">105</text>
<text x="625.5" y="115.9">95</text><text x="626.3" y="92.9">105</text><text x="627" y="74.4">113</text><text x="627.8" y="90.6">106</text><text x="628.6" y="115.9">95</text><text x="629.3" y="115.9">95</text><text x="630.1" y="97.5">103</text><text x="630.8" y="132">88</text>
<text x="631.6" y="90.6">106</text><text x="632.4" y="81.3">110</text><text x="633.1" y="81.3">110</text><text x="633.9" y="143.5">83</text><text x="634.7" y="189.6">63</text><text x="635.4" y="334.6">0</text>
</g>
<path d="M90.3 340.8 L92.3 340.8 L94.3 340.7 L96.3 340.7 L98.3 340.7 L100.3 340.7 L102.3 340.6 L104.3 340.6 L106.3 340.6 L108.3 340.5 L110.3 340.5 L112.3 340.4 L114.3 340.4 L116.3 340.3 L118.3 340.2 L120.3 340.2 L122.3 340.1 L124.3 340.1 L126.3 340 L128.3 340 L130.3 339.9 L132.3 339.9 L134.3 339.8 L136.3 339.8 L138.3 339.7 L140.3 339.7 L142.3 339.6 L144.3 339.6 L146.3 339.5 L148.3 339.5 L150.3 339.4 L152.3 339.4 L154.3 339.3 L156.3 339.3 L158.3 339.2 L160.3 339.2 L162.3 339.1 L164.3 339.1 L166.3 339.1 L168.3 339 L170.3 339 L172.3 338.9 L174.3 338.9 L176.3 338.9 L178.3 338.8 L180.3 338.8 L182.3 338.8 L184.3 338.7 L186.3 338.7 L188.3 338.7 L190.3 338.6 L192.3 338.6 L194.3 338.6 L196.3 338.6 L198.3 338.5 L200.3 338.5 L202.3 338.5 L204.3 338.4 L206.3 338.4 L208.3 338.3 L210.3 338.3 L212.3 338.2 L214.3 338.2 L216.3 338.1 L218.3 338.1 L220.3 338 L222.3 337.9 L224.3 337.8 L226.3 337.7 L228.3 337.6 L230.3 337.5 L232.3 337.4 L234.3 337.3 L236.3 337.2 L238.3 337.1 L240.3 337 L242.3 336.9 L244.3 336.8 L246.3 336.6 L248.3 336.5 L250.3 336.4 L252.3 336.3 L254.3 336.1 L256.3 336 L258.3 335.8 L260.3 335.7 L262.3 335.5 L264.3 335.3 L266.3 335.1 L268.3 334.8 L270.3 334.6 L272.3 334.2 L274.3 333.9 L276.3 333.4 L278.3 333 L280.3 332.4 L282.3 331.8 L284.3 330.9 L286.3 329.9 L288.3 328.4 L290.3 326.7 L292.3 324.7 L294.3 322.4 L296.3 319.6 L298.3 316.4 L300.3 313.1 L302.3 309.6 L304.3 306.1 L306.3 303 L308.3 300.2 L310.3 297.5 L312.3 294.7 L314.3 292.1 L316.3 289.9 L318.3 287.8 L320.3 285.9 L322.3 284.1 L324.3 282.3 L326.3 280.7 L328.3 279.2 L330.3 278 L332.3 277.1 L334.3 276.3 L336.3 275.5 L338.3 274.8 L340.3 274.1 L342.3 273.4 L344.3 272.7 L346.3 272 L348.3 271.3 L350.3 270.6 L352.3 269.9 L354.3 269.2 L356.3 268.5 L358.3 267.8 L360.3 267 L362.3 266.2 L364.3 265.4 L366.3 264.5 L368.3 263.6 L370.3 262.5 L372.3 261.2 L374.3 259.7 L376.3 258.1 L378.3 256.4 L380.3 254.8 L382.3 253.2 L384.3 251.7 L386.3 250.1 L388.3 248.5 L390.3 246.6 L392.3 244.5 L394.3 242.2 L396.3 239.7 L398.3 237.2 L400.3 234.8 L402.3 232.5 L404.3 230.1 L406.3 227.7 L408.3 225.4 L410.3 223.1 L412.3 220.8 L414.3 218.5 L416.3 216.1 L418.3 213.8 L420.3 211.5 L422.3 209.3 L424.3 207.1 L426.3 205 L428.3 203.1 L430.3 201.5 L432.3 200 L434.3 198.5 L436.3 197.3 L438.3 196.1 L440.3 195.2 L442.3 194.3 L444.3 193.6 L446.3 193 L448.3 192.4 L450.3 191.8 L452.3 191.3 L454.3 190.9 L456.3 190.4 L458.3 190 L460.3 189.6 L462.3 189.3 L464.3 189 L466.3 188.6 L468.3 188.3 L470.3 188.1 L472.3 187.8 L474.3 187.6 L476.3 187.3 L478.3 187.1 L480.3 186.7 L482.3 186.4 L484.3 186 L486.3 185.5 L488.3 185 L490.3 184.4 L492.3 183.8 L494.3 183.1 L496.3 182.3 L498.3 181.5 L500.3 180.7 L502.3 179.7 L504.3 178.6 L506.3 177.5 L508.3 176.3 L510.3 175.1 L512.3 174 L514.3 172.7 L516.3 171.5 L518.3 170.4 L520.3 169.2 L522.3 168.2 L524.3 167.2 L526.3 166.2 L528.3 165.2 L530.3 164.3 L532.3 163.3 L534.3 162.3 L536.3 161.3 L538.3 160.4 L540.3 159.3 L542.3 158.3 L544.3 157.3 L546.3 156.3 L548.3 155.1 L550.3 153.9 L552.3 152.6 L554.3 151.1 L556.3 149.5 L558.3 147.9 L560.3 146.2 L562.3 144.5 L564.3 142.6 L566.3 140.5 L568.3 138.1 L570.3 135.5 L572.3 132.7 L574.3 129.8 L576.3 127 L578.3 124.3 L580.3 121.6 L582.3 118.7 L584.3 115.7 L586.3 112.7 L588.3 109.5 L590.3 106.6 L592.3 104 L594.3 101.6 L596.3 99.3 L598.3 97 L600.3 94.6 L602.3 92.3 L604.3 90 L606.3 87.7 L608.3 85.2 L610.3 82.7 L612.3 80.2 L614.3 77.5 L616.3 74.8 L618.3 72 L620.3 69 L622.3 65.9 L624.3 62.7 L626.3 59.5 L628.3 56.2 L630.3 53 L632.3 50.1 L634.3 47.6 L635.3 46.3" fill="none" stroke="#ff0000" stroke-width="7.3" stroke-linecap="round" stroke-linejoin="round"/>
<text class="r" x="358.8" y="261" textLength="21.3" lengthAdjust="spacingAndGlyphs">6180</text>
<text class="r" x="444.2" y="187.2" textLength="24.2" lengthAdjust="spacingAndGlyphs">12343</text>
<text class="r" x="634.9" y="40.1" textLength="26.3" lengthAdjust="spacingAndGlyphs">24679</text>
<g fill="none" stroke="#4a4a4a" stroke-width="1.1">
<path d="M68.2 34.3V352.5H657.4"/>
<path d="M657.4 42.5V340.8"/>
<path d="M62 340.8H68.2M62 294.8H68.2M62 248.7H68.2M62 202.7H68.2M62 156.6H68.2M62 110.6H68.2M62 64.5H68.2M657.4 340.8H663.6M657.4 281.1H663.6M657.4 221.5H663.6M657.4 161.8H663.6M657.4 102.2H663.6M657.4 42.5H663.6M325.1 352.5V358.6M602.75 352.5V358.6"/>
</g>
<path d="M325.1 352.5H602.75" stroke="#222" stroke-width="1.1" fill="none"/>
<g class="ax" text-anchor="end">
<text x="55" y="344.1" textLength="5.0" lengthAdjust="spacingAndGlyphs">0</text>
<text x="55" y="298" textLength="9.7" lengthAdjust="spacingAndGlyphs">20</text>
<text x="55" y="252" textLength="10.0" lengthAdjust="spacingAndGlyphs">40</text>
<text x="55" y="205.9" textLength="9.9" lengthAdjust="spacingAndGlyphs">60</text>
<text x="55" y="159.9" textLength="10.0" lengthAdjust="spacingAndGlyphs">80</text>
<text x="55" y="113.8" textLength="14.1" lengthAdjust="spacingAndGlyphs">100</text>
<text x="55" y="67.8" textLength="13.4" lengthAdjust="spacingAndGlyphs">120</text>
</g>
<g class="ax" text-anchor="middle">
<text x="325.1" y="373.3" textLength="19.2" lengthAdjust="spacingAndGlyphs">2021</text>
<text x="602.9" y="373.3" textLength="19.2" lengthAdjust="spacingAndGlyphs">2022</text>
</g>
<g class="ax" text-anchor="middle">
<text transform="translate(678.2 340.8) rotate(-90)" textLength="5.0" lengthAdjust="spacingAndGlyphs">0</text>
<text transform="translate(678.2 281.1) rotate(-90)" textLength="22.1" lengthAdjust="spacingAndGlyphs">5000</text>
<text transform="translate(678.2 221.5) rotate(-90)" textLength="26.7" lengthAdjust="spacingAndGlyphs">10000</text>
<text transform="translate(678.2 161.8) rotate(-90)" textLength="25.5" lengthAdjust="spacingAndGlyphs">15000</text>
<text transform="translate(678.2 102.2) rotate(-90)" textLength="27.9" lengthAdjust="spacingAndGlyphs">20000</text>
<text transform="translate(678.2 42.5) rotate(-90)" textLength="26.5" lengthAdjust="spacingAndGlyphs">25000</text>
</g>
<g class="lab" text-anchor="middle">
<text x="362.9" y="396.6" textLength="95.8" lengthAdjust="spacingAndGlyphs">Ημερομηνία θανάτου</text>
<text style="font-size:10.3px" transform="translate(29.9 193.8) rotate(-90)" textLength="104.7" lengthAdjust="spacingAndGlyphs">Αριθμός νέων θανάτων</text>
<text style="font-size:10.3px" transform="translate(702.2 193.5) rotate(-90)" textLength="127.8" lengthAdjust="spacingAndGlyphs">Συνολικός αριθμός θανάτων</text>
</g>
</svg>
</body>
</html>
